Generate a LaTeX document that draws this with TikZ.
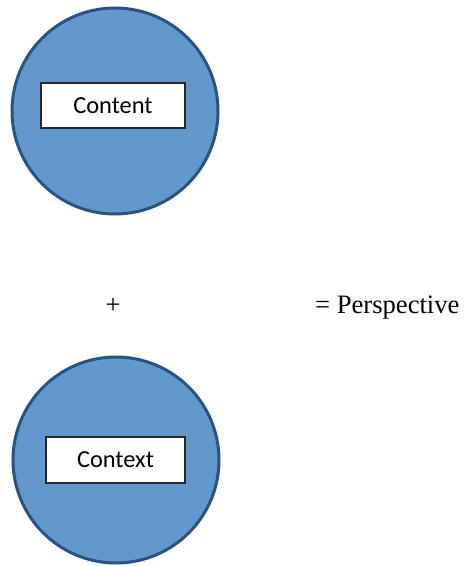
\documentclass[tikz,border=0pt]{standalone}
\usepackage{fontspec}
\setmainfont{Liberation Serif}
\newfontfamily\boxfont{Carlito}
\definecolor{discfill}{RGB}{98,152,203}
\definecolor{discedge}{RGB}{40,83,130}
\begin{document}
\begin{tikzpicture}[x=1bp,y=-1bp,
  disc/.style={circle,draw=discedge,fill=discfill,line width=3bp,minimum size=206bp,inner sep=0pt},
  tag/.style={draw=black!85,fill=white,line width=1.3bp,inner sep=0pt,font=\boxfont\fontsize{24.5}{28}\selectfont},
  sym/.style={inner sep=0pt,font=\fontsize{26.7}{30}\selectfont}]
\useasboundingbox (0,0) rectangle (468,566);
\node[disc] (top) at (115,111) {};
\node[tag,minimum width=144bp,minimum height=45bp] (content) at (113,105.5) {Content};
\node[disc] (bottom) at (116,460) {};
\node[tag,minimum width=139bp,minimum height=46bp] (context) at (115.5,460) {Context};
\node[sym,anchor=base] (plus) at (113,313) {+};
\node[sym,anchor=base west] (result) at (315,313) {= Perspective};
\end{tikzpicture}
\end{document}
